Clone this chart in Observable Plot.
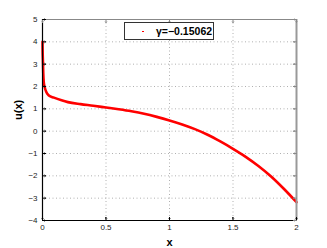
<!DOCTYPE html>
<html>
<head>
<meta charset="utf-8">
<script src="https://cdn.jsdelivr.net/npm/d3@7"></script>
<script src="https://cdn.jsdelivr.net/npm/@observablehq/plot@0.6"></script>
<style>
  html, body { margin: 0; padding: 0; background: #fff; }
  #wrap { position: relative; width: 327px; height: 248px; font-family: "Liberation Sans", Arial, sans-serif; }
  #legend { position: absolute; left: 124px; top: 22px; width: 90px; height: 18px; border: 1px solid #333; background: #fff; box-sizing: border-box; }
  #legend .dot { position: absolute; left: 17px; top: 7.5px; width: 1.5px; height: 1.5px; background: #f00; }
  #legend .lbl { position: absolute; left: 31px; top: 2px; font-size: 10.5px; font-weight: bold; color: #000; white-space: nowrap; }
</style>
</head>
<body>
<div id="wrap">
  <div id="chart"></div>
  <div id="legend"><div class="dot"></div><div class="lbl">γ=−0.15062</div></div>
</div>
<script>
const xs = [0, 0.001, 0.003, 0.006, 0.01, 0.016, 0.03, 0.05, 0.09, 0.15, 0.2, 0.3, 0.4, 0.5, 0.6, 0.7, 0.8, 0.9, 1.0, 1.1, 1.2, 1.3, 1.4, 1.5, 1.6, 1.7, 1.8, 1.9, 2.0];
const us = [4.0, 3.6, 3.2, 2.6, 2.2, 2.0, 1.75, 1.6, 1.5, 1.38, 1.3, 1.21, 1.14, 1.06, 0.98, 0.89, 0.78, 0.64, 0.48, 0.3, 0.09, -0.16, -0.46, -0.79, -1.15, -1.56, -2.03, -2.58, -3.18];
const xTicks = [0, 0.5, 1, 1.5, 2];
const xTickLabels = ["0", "0.5", "1", "1.5", "2"];
const yTicks = [-4, -3, -2, -1, 0, 1, 2, 3, 4, 5];
const yTickLabels = ["−4", "−3", "−2", "−1", "0", "1", "2", "3", "4", "5"];

const data = xs.map((x, i) => ({x, u: us[i]}));
const gridColor = "#b0b0b0";

const plot = Plot.plot({
  width: 327,
  height: 248,
  marginLeft: 42,
  marginRight: 31,
  marginTop: 19,
  marginBottom: 28,
  style: {fontFamily: "Liberation Sans, Arial, sans-serif", fontSize: "8px", background: "#fff"},
  x: {domain: [0, 2]},
  y: {domain: [-4, 5]},
  marks: [
    Plot.gridX(xTicks, {stroke: gridColor, strokeOpacity: 1, strokeDasharray: "1,2.5"}),
    Plot.gridY(yTicks, {stroke: gridColor, strokeOpacity: 1, strokeDasharray: "1,2.5"}),
    Plot.line(data, {x: "x", y: "u", stroke: "#ff0000", strokeWidth: 2.6, curve: "monotone-x"}),
    Plot.ruleY([5], {stroke: "#888", strokeWidth: 1}),
    Plot.ruleX([2], {stroke: "#999", strokeWidth: 2}),
    Plot.ruleX([0], {stroke: "#000", strokeWidth: 1.2}),
    Plot.ruleY([-4], {stroke: "#000", strokeWidth: 1.2}),
    Plot.vector(xTicks, {x: d => d, y: -4, length: 3, rotate: 0, anchor: "start", stroke: "#000", strokeWidth: 1}),
    Plot.vector(xTicks, {x: d => d, y: 5, length: 3, rotate: 180, anchor: "start", stroke: "#888", strokeWidth: 1}),
    Plot.vector(yTicks, {x: 0, y: d => d, length: 3, rotate: 90, anchor: "start", stroke: "#000", strokeWidth: 1}),
    Plot.vector(yTicks, {x: 2, y: d => d, length: 3, rotate: -90, anchor: "start", stroke: "#888", strokeWidth: 1}),
    Plot.axisX(xTicks, {tickSize: 0, tickPadding: 4, tickFormat: (d, i) => xTickLabels[i], label: null, fontSize: 8, fill: "#222"}),
    Plot.axisY(yTicks, {tickSize: 0, tickPadding: 5, tickFormat: (d, i) => yTickLabels[i], label: null, fontSize: 8, fill: "#222"}),
    Plot.text(["x"], {frameAnchor: "bottom", dy: 25, text: d => d, fontWeight: "bold", fontSize: 11, fill: "#000"}),
    Plot.text(["u(x)"], {frameAnchor: "left", dx: -24, rotate: -90, text: d => d, fontWeight: "bold", fontSize: 11, fill: "#000"})
  ]
});
document.getElementById("chart").appendChild(plot);
</script>
</body>
</html>
